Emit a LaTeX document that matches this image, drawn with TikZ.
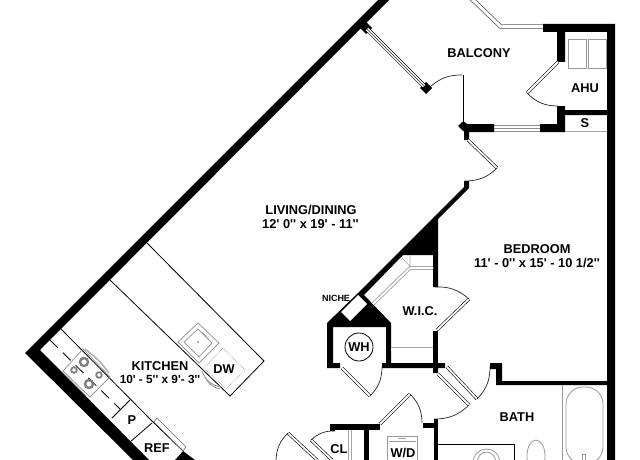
\documentclass[tikz,border=0pt]{standalone}
\usepackage{fontspec}
\newfontfamily\lab{Liberation Sans Bold}
\tikzset{
  wall/.style={fill=black,draw=none},
  leaf/.style={draw=black,line width=0.6pt,double=white,double distance=1.8pt},
  swing/.style={draw=black!85,line width=0.7pt},
  fixture/.style={draw=black!40,line width=0.8pt},
  fine/.style={draw=black,line width=0.8pt},
  rail/.style={draw=black!70,line width=0.7pt,double=white,double distance=3pt},
  shelf/.style={draw=black!35,line width=0.9pt,double=white,double distance=1.8pt},
  room/.style={font=\lab\fontsize{12.8}{15}\selectfont,text=black,inner sep=0pt},
  dim/.style={font=\lab\fontsize{12.8}{15}\selectfont,text=black,inner sep=0pt},
}
\begin{document}
\begin{tikzpicture}[x=1pt,y=-1pt]
\useasboundingbox (0,0) rectangle (640,460);
\clip (0,0) rectangle (640,460);
\fill[white] (0,0) rectangle (640,460);
% outer diagonal wall and kitchen wall
\fill[wall] (378,0) -- (389,0) -- (40,350) -- (149,460) -- (133,460) -- (25,353) -- cycle;
\fill[wall] (175,460) -- (183,451) -- (195,460) -- cycle;
% sliding door to the balcony
\fill[wall] (360,28) -- (366,22) -- (372,28) -- (366,34) -- cycle;
\fill[wall] (426,82) -- (432,88) -- (426,94) -- (420,88) -- cycle;
\draw[leaf,double distance=3.4pt] (367,29) -- (424,86);
\draw[draw=black!60,line width=1pt] (367,29) -- (424,86);
% balcony rail
\draw[rail] (471,-2) -- (500.5,26.5) -- (544,26.5);
% top right walls
\fill[wall] (543,24) -- (615,24) -- (615,460) -- (607,460) -- (607,32) -- (565,32) -- (565,62) -- (557,62) -- (557,32) -- (543,32) -- cycle;
\fill[wall] (557,106) -- (565,106) -- (565,110) -- (607,110) -- (607,115) -- (565,115) -- (565,132) -- (540,132) -- (540,124) -- (557,124) -- cycle;
\fill[wall] (458,126) -- (463,121) -- (467,124) -- (494,124) -- (494,132) -- (469,132) -- (469,140) -- (464,140) -- (464,131) -- (463,131) -- cycle;
\draw[draw=black!45,line width=.7pt] (494,125) -- (540,125) (494,128) -- (540,128) (494,131) -- (540,131);
\draw[draw=black!35,line width=.8pt] (565,131) -- (607,131);
% AHU units
\draw[fixture] (568,39) rectangle (586,68) (588,39) rectangle (606,68);
% doors of the balcony
\draw[leaf] (462,122) -- (462,75);
\draw[swing] (462,75) to[bend right=21] (430,87);
\draw[leaf] (558,62) -- (527,93);
\draw[swing] (527,93) to[bend right=22] (557,106);
\draw[leaf] (468,140) -- (497,168);
\draw[swing] (497,168) to[bend left=22] (465,181);
% diagonal wall, closet block and WH closet
\fill[wall] (464,181) -- (469,181) -- (469,188) -- (438,219) -- (438,287) -- (433,287) -- (433,255) -- (403,255) -- (364,295) -- (391,323) -- (391,363) -- (445,363) -- (445,368) -- (438,368) -- (438,373) -- (433,373) -- (433,368) -- (382,368) -- (382,363) -- (386,363) -- (386,327) -- (333,327) -- (333,363) -- (340,363) -- (340,368) -- (327,368) -- (327,323) -- (358,293) -- (464,187) -- cycle;
\fill[wall] (433,331) rectangle (438,368);
\fill[white] (358,295) -- (367,304) -- (350,321) -- (341,312) -- cycle;
\draw[shelf] (373,304) -- (410,268) -- (433,268);
\draw[draw=black!35,line width=.7pt] (410,255) -- (410,268) (402,258) -- (410,266);
\draw[shelf,double distance=3pt] (391,349) -- (433,349);
\draw[leaf] (437,330) -- (469,299);
\draw[swing] (469,299) to[bend right=22] (435,287);
\draw[leaf] (342,368) -- (370,396);
\draw[swing] (370,396) to[bend right=22] (382,367);
\draw[leaf] (447,367) -- (477,399);
\draw[swing] (477,399) to[bend right=22] (490,367);
\draw[leaf] (438,374) -- (469,405);
\draw[swing] (469,405) to[bend left=22] (434,419);
% bath and lower walls
\fill[wall] (490,363) -- (502,363) -- (502,381) -- (607,381) -- (607,385) -- (496,385) -- (496,369) -- (490,369) -- cycle;
\fill[wall] (434,419) rectangle (438,460);
\fill[wall] (423,423) rectangle (438,428);
\fill[wall] (330,424) rectangle (380,430);
\fill[wall] (330,424) rectangle (335,431);
\fill[wall] (364,430) rectangle (369,460);
\draw[leaf] (380,424) -- (410,394);
\draw[swing] (410,394) to[bend left=22] (422,423);
\draw[leaf] (332,460) -- (311,440);
\draw[swing] (311,440) to[bend left=22] (335,431);
\draw[leaf] (317,460) -- (288,433);
\draw[swing] (288,433) to[bend right=22] (276,461);
\draw[shelf] (350,430) -- (350,461);
% washer and dryer
\draw[fixture] (387,436) rectangle (417,462) (388.5,441) -- (415.5,441);
\draw[fixture,line width=.6pt] (398,438.5) -- (406,438.5);
% bath fixtures
\draw[fine] (438,444) -- (514,444) -- (514,461);
\draw[fixture] (473,464) .. controls (473,444) and (500,444) .. (500,464);
\draw[fixture] (477,464) .. controls (477,448) and (496,448) .. (496,464);
\draw[fixture] (536,456) ellipse[x radius=9,y radius=16];
\draw[fixture] (562,385) -- (562,461);
\draw[fixture,rounded corners=17pt] (566,387) rectangle (603,464);
\draw[fixture,line width=.6pt] (582,461) -- (582,454) -- (585,454) -- (585,461);
% kitchen counters
\draw[fine] (147,243) -- (264,361) -- (230,396) -- (110,280);
\draw[fine] (61,329) -- (153,422) -- (182,450);
\draw[fine] (112,418) -- (130,400);
\draw[fine] (130,442) -- (152,423);
\draw[fine,dashed,dash pattern=on 11pt off 7pt] (50,340) -- (120,409);
\draw[draw=black!60,line width=.6pt] (157,418) -- (186,447) -- (183,451) -- (154,422) -- cycle;
% stove
\draw[fixture] (83,349) -- (110,377) -- (90,397) -- (63,371) -- cycle;
\draw[draw=black!30,line width=1.6pt] (85,349) to[bend left=8] (109,373);
\draw[draw=black!50,line width=1pt] (63,373) -- (86,396);
\draw[draw=black!50,line width=2.4pt] (84,362) circle[radius=4] (89,384) circle[radius=4];
\draw[draw=black!50,line width=1.8pt] (74,370) circle[radius=2.8] (99,375) circle[radius=2.8];
% sink and dishwasher
\draw[fixture] (198,323) -- (219,343) -- (199,363) -- (178,342) -- cycle;
\draw[fixture] (198,329) -- (212,343) -- (199,357) -- (184,342) -- cycle;
\fill[black!45] (198,342) circle[radius=1];
\draw[fixture,line width=.6pt] (202,332) -- (207,337);
\draw[draw=black!45,line width=.6pt,densely dotted] (223,348) -- (245,370) -- (226,389) -- (204,368) -- cycle;
\draw[fixture] (204,375) to[bend right=28] (220,389) (202,371) to[bend right=30] (221,387);
% circle for the water heater
\draw[fine] (359,347) circle[radius=14];
% labels
\node[room] (balcony) at (479,53) {BALCONY};
\node[room] (ahu) at (585,88) {AHU};
\node[room] (s) at (585,123) {S};
\node[room] (living) at (311,210) {LIVING/DINING};
\node[dim] (livingdim) at (310.5,224.5) {12' 0'' x 19' - 11''};
\node[room] (bedroom) at (537,249) {BEDROOM};
\node[dim] (bedroomdim) at (537,263) {11' - 0'' x 15' - 10 1/2''};
\node[room] (wic) at (420,311) {W.I.C.};
\node[room,font=\lab\fontsize{9}{10}\selectfont] (niche) at (336,298) {NICHE};
\node[room] (wh) at (359,347) {WH};
\node[room] (bath) at (517,417) {BATH};
\node[room] (kitchen) at (160,366) {KITCHEN};
\node[dim,font=\lab\fontsize{11.8}{14}\selectfont] (kitchendim) at (160,379) {10' - 5'' x 9'- 3''};
\node[room] (dw) at (224,369) {DW};
\node[room] (p) at (132,420) {P};
\node[room] (ref) at (157,448) {REF};
\node[room] (cl) at (339,449) {CL};
\node[room] (wd) at (403,453) {W/D};
\end{tikzpicture}
\end{document}
